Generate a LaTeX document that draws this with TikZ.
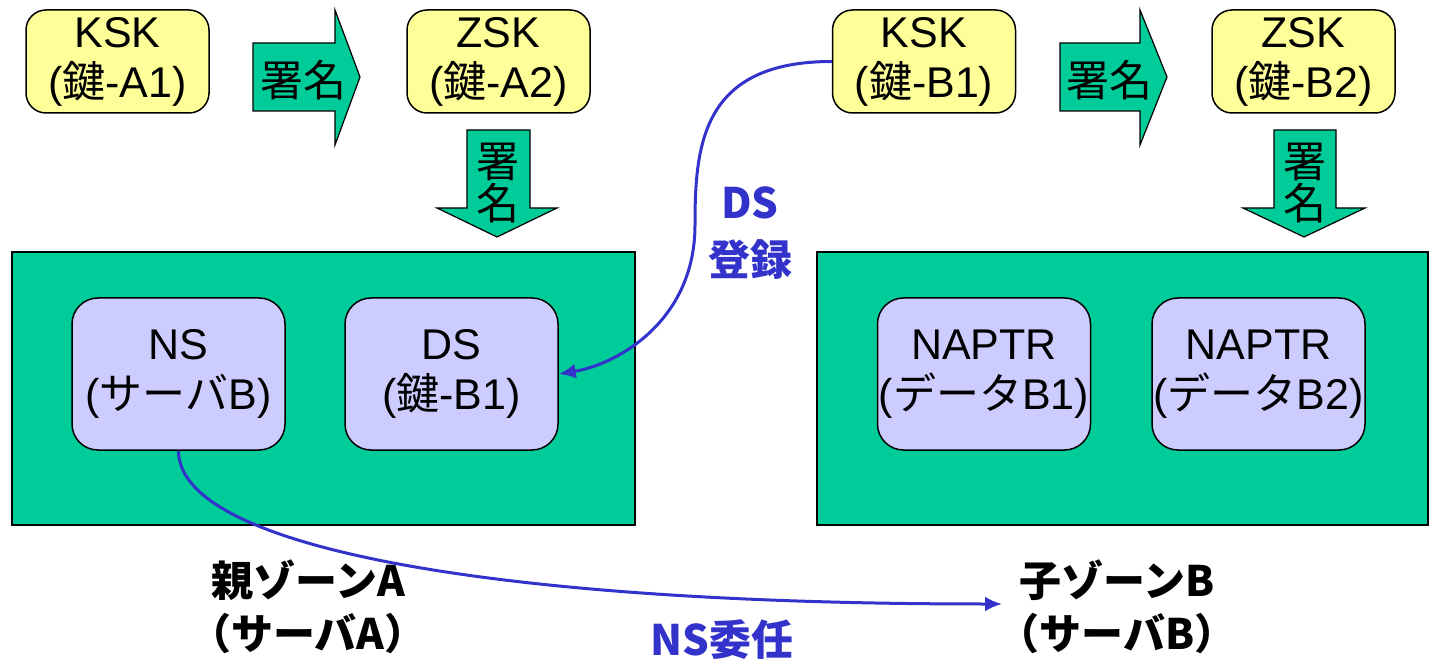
\documentclass[tikz,border=0pt]{standalone}
\usepackage{fontspec}
\usetikzlibrary{arrows.meta}
\setmainfont{Liberation Sans}
\newfontfamily\jp{Noto Sans CJK JP}
\newcommand\J[1]{{\jp #1}}
\definecolor{keyyellow}{HTML}{FFFF99}
\definecolor{zonegreen}{HTML}{00CC99}
\definecolor{lav}{HTML}{CCCCFF}
\definecolor{linkblue}{HTML}{3333CC}
\tikzset{
  bigtext/.style={font=\fontsize{43}{50}\selectfont},
  keybox/.style={bigtext, draw=black, line width=1.5pt, fill=keyyellow, rounded corners=20pt,
    minimum width=183pt, minimum height=103pt, align=center, inner sep=0pt},
  recbox/.style={bigtext, draw=black, line width=1.5pt, fill=lav, rounded corners=26pt,
    minimum width=213pt, minimum height=152pt, align=center, inner sep=0pt},
  zonebox/.style={draw=black, line width=1.5pt, fill=zonegreen, inner sep=0pt},
  blockarrow/.style={draw=black, line width=1.2pt, fill=zonegreen},
  arrowlabel/.style={bigtext, inner sep=0pt},
  zonelabel/.style={font=\fontsize{42}{53}\selectfont\jp\bfseries, align=center, inner sep=0pt},
  bluelabel/.style={font=\fontsize{42}{57}\selectfont\jp\bfseries, text=linkblue, align=center, inner sep=0pt},
  conn/.style={draw=linkblue, line width=3pt, -{Latex[length=17pt,width=15pt]}},
}
\begin{document}
\begin{tikzpicture}[x=1pt,y=-1pt]
\useasboundingbox (0,0) rectangle (1430,660);
% zones
\node[zonebox, minimum width=623pt, minimum height=273pt] (zoneA) at (323.5,388.5) {};
\node[zonebox, minimum width=611pt, minimum height=273pt] (zoneB) at (1122.5,388.5) {};
% key boxes
\node[keybox] (ka1) at (117.5,61.5) {KSK\\(\J{鍵}-A1)};
\node[keybox] (za2) at (498.5,61.5) {ZSK\\(\J{鍵}-A2)};
\node[keybox] (kb1) at (924,61.5) {KSK\\(\J{鍵}-B1)};
\node[keybox] (zb2) at (1303.5,61.5) {ZSK\\(\J{鍵}-B2)};
% record boxes
\node[recbox] (ns) at (178.5,374) {NS\\(\J{サーバ}B)};
\node[recbox] (ds) at (451.5,374) {DS\\(\J{鍵}-B1)};
\node[recbox] (nap1) at (984,374) {NAPTR\\(\J{データ}B1)};
\node[recbox] (nap2) at (1258.5,374) {NAPTR\\(\J{データ}B2)};
% block arrows
\draw[blockarrow] (253,43) -- (335,43) -- (335,10) -- (360,77) -- (335,145) -- (335,111) -- (253,111) -- cycle;
\node[arrowlabel] (sigA1) at (303,80) {\J{署名}};
\draw[blockarrow] (1060,43) -- (1140,43) -- (1140,10) -- (1167,77) -- (1140,145) -- (1140,111) -- (1060,111) -- cycle;
\node[arrowlabel] (sigB1) at (1109,80) {\J{署名}};
\draw[blockarrow] (467,130) -- (530,130) -- (530,208) -- (557,208) -- (497,237) -- (437,208) -- (467,208) -- cycle;
\node[arrowlabel] (sigA2a) at (498,162) {\J{署}};
\node[arrowlabel] (sigA2b) at (498,203) {\J{名}};
\draw[blockarrow] (1274,130) -- (1336,130) -- (1336,208) -- (1365,208) -- (1304,237) -- (1243,208) -- (1274,208) -- cycle;
\node[arrowlabel] (sigB2a) at (1305,162) {\J{署}};
\node[arrowlabel] (sigB2b) at (1305,203) {\J{名}};
% zone labels
\node[zonelabel] (labA) at (308,607) {親ゾーンA\\（サーバA）};
\node[zonelabel] (labB) at (1117,607) {子ゾーンB\\（サーバB）};
% connectors
\draw[conn] (kb1.west) .. controls +(-130,0) and +(0,-80) .. (695,225) .. controls +(0,95) and +(60,-10) .. (ds.east);
\coordinate (nsend) at (1002,604);
\draw[conn] (ns.south) .. controls +(0,95) and +(-520,0) .. (nsend);
\node[bluelabel] (dslab) at (750,233) {DS\\登録};
\node[bluelabel] (nslab) at (722,640) {NS委任};
\end{tikzpicture}
\end{document}
